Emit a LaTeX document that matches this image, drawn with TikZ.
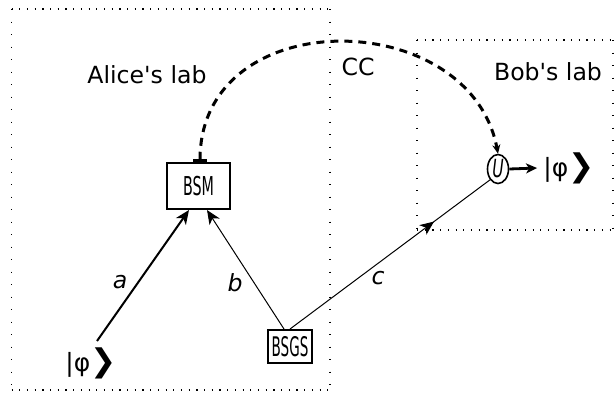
\documentclass[tikz,border=0pt]{standalone}
\usepackage{fontspec}
\setmainfont{DejaVu Sans}
\usetikzlibrary{arrows.meta,shapes.geometric,decorations.markings,calc}
\begin{document}
\begin{tikzpicture}[x=0.5pt,y=-0.5pt,
  hdots/.style={line width=0.6pt, dash pattern=on 0.6pt off 3.25pt},
  vdots/.style={line width=0.6pt, dash pattern=on 0.6pt off 5.65pt},
  lbl/.style={font=\fontsize{11.8pt}{14pt}\selectfont, inner sep=0pt},
  edgelbl/.style={font=\fontsize{11.8pt}{14pt}\selectfont\itshape, inner sep=0pt},
  boxnode/.style={draw, line width=1pt, inner sep=0pt},
  ketlbl/.style={font=\fontsize{12.5pt}{14pt}\selectfont, inner sep=0pt},
  bigtip/.style={-{Stealth[length=7pt,width=6pt,inset=2pt]}},
]
\useasboundingbox (0,0) rectangle (615,396);
% lab regions
\draw[hdots] (11.5,9) -- (330,9);
\draw[hdots] (11.5,390) -- (330,390);
\draw[vdots] (11.5,9) -- (11.5,390);
\draw[vdots] (330,9) -- (330,390);
\draw[hdots] (417,40) -- (613,40);
\draw[hdots] (417,230) -- (613,230);
\draw[vdots] (417,40) -- (417,230);
\draw[vdots] (613,40) -- (613,230);
% labels
\node[lbl] (alice) at (147,75) {Alice\textquotesingle s lab};
\node[lbl] (cc) at (358,67) {CC};
\node[lbl] (bob) at (548,72) {Bob\textquotesingle s lab};
% nodes
\node[boxnode, minimum width=31.5pt, minimum height=23pt] (BSM) at (198.5,186)
  {\fontsize{13pt}{14pt}\selectfont\scalebox{0.55}[1]{BSM}};
\node[boxnode, minimum width=22pt, minimum height=16.5pt] (BSGS) at (290,346.5)
  {\fontsize{13.5pt}{14pt}\selectfont\scalebox{0.5}[1]{BSGS}};
\node[draw, ellipse, line width=0.8pt, minimum width=10.5pt, minimum height=14.5pt, inner sep=0pt] (U) at (498,169)
  {\fontsize{12.5pt}{14pt}\selectfont\itshape\scalebox{0.62}[1]{U}};
\node[ketlbl] (phiin) at (91,363) {|φ\raisebox{0.3pt}{\scalebox{1.25}{❯}}};
\node[ketlbl] (phiout) at (569,168) {|φ\raisebox{0.3pt}{\scalebox{1.25}{❯}}};
% connectors
\coordinate (a0) at (97,341);
\draw[line width=1pt, bigtip] (a0) -- ($(BSM.south)+(-9.5,0)$);
\draw[line width=0.5pt, bigtip] ($(BSGS.north)+(-6,0)$) -- ($(BSM.south)+(8.5,0)$);
\draw[line width=0.5pt, postaction={decorate}, decoration={markings, mark=at position 0.72 with {\arrow{Stealth[length=7pt,width=6pt,inset=2pt]}}}]
  (BSGS.north) -- (U.south west);
\draw[line width=1.5pt, dash pattern=on 4pt off 3pt, {Bar[width=7pt,line width=1.5pt]}-{Stealth[length=4.5pt,width=4pt,inset=1.5pt]}]
  ($(BSM.north)+(1.5,0)$) .. controls (200,2) and (470,5) .. (U.north);
\draw[line width=1.4pt, -{Stealth[length=5.5pt,width=5pt,inset=1.5pt]}] (U.east) -- ($(phiout.west)+(-6,0)$);
% edge labels
\node[edgelbl] (la) at (120,282) {a};
\node[edgelbl] (lb) at (235,283) {b};
\node[edgelbl] (lc) at (378,278) {c};
\end{tikzpicture}
\end{document}
